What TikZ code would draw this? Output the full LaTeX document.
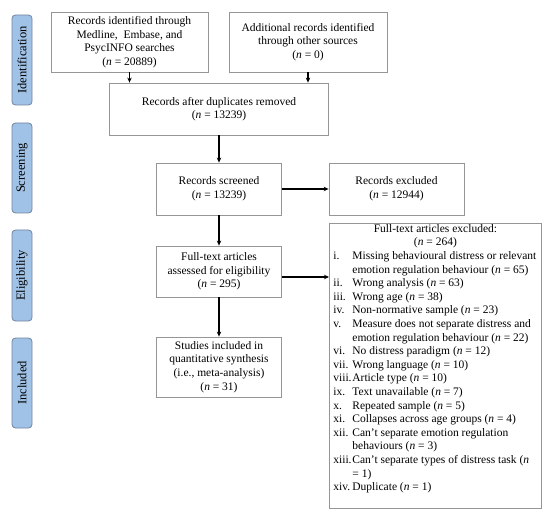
\documentclass[tikz,border=0pt]{standalone}
\usepackage{fontspec}
\setmainfont{Liberation Serif}
\usetikzlibrary{arrows.meta}
\definecolor{boxgray}{RGB}{150,150,150}
\definecolor{sidefill}{RGB}{160,194,230}
\definecolor{sidedraw}{RGB}{115,132,160}
\tikzset{
  box/.style={draw=boxgray, line width=0.8pt, align=center, inner sep=0pt,
    font=\fontsize{11.5}{13.6}\selectfont},
  side/.style={draw=sidedraw, fill=sidefill, line width=0.8pt, rounded corners=3.5pt,
    minimum height=20pt, inner sep=0pt, rotate=90, font=\fontsize{12.5}{14}\selectfont},
  arr/.style={line width=1.4pt, -{Stealth[length=5pt,width=4.5pt]}},
}
\begin{document}
\begin{tikzpicture}[x=1pt,y=-1pt]
\useasboundingbox (0,0) rectangle (550,519);
% side labels
\node[side, minimum width=90pt] (s1) at (22,60) {Identification};
\node[side, minimum width=90pt] (s2) at (22,168) {Screening};
\node[side, minimum width=91pt] (s3) at (22,275.5) {Eligibility};
\node[side, minimum width=90pt] (s4) at (22,383) {Included};
% boxes
\node[box, minimum width=157pt, minimum height=60pt] (b1) at (129.5,42)
  {Records identified through\\Medline,\ \ Embase, and\\PsycINFO searches\\(\textit{n} = 20889)};
\node[box, minimum width=158pt, minimum height=60pt] (b2) at (308,42)
  {Additional records identified\\through other sources\\(\textit{n} = 0)};
\node[box, minimum width=219pt, minimum height=52pt] (b3) at (219,109)
  {Records after duplicates removed\\(\textit{n} = 13239)};
\node[box, minimum width=125pt, minimum height=52pt] (b4) at (219,189)
  {Records screened\\(\textit{n} = 13239)};
\node[box, minimum width=135pt, minimum height=52pt] (ex) at (396.5,189)
  {Records excluded\\(\textit{n} = 12944)};
\node[box, minimum width=125pt, minimum height=51pt] (b5) at (219,271.5)
  {Full-text articles\\assessed for eligibility\\(\textit{n} = 295)};
\node[box, minimum width=125pt, minimum height=60pt] (b7) at (219,367)
  {Studies included in\\quantitative synthesis\\(i.e., meta-analysis)\\(\textit{n} = 31)};
\node[box, anchor=north west, inner xsep=4pt, inner ysep=0pt, align=left] (b6) at (329,223)
  {\parbox[t][285pt][t]{204pt}{\raggedright
   \vspace*{1pt}
   {\centering Full-text articles excluded:\\(\textit{n} = 264)\par}
   \mbox{\makebox[19pt][l]{i.}Missing behavioural distress or relevant}\\
   \mbox{\hspace*{19pt}emotion regulation behaviour (\textit{n} = 65)}\\
   \mbox{\makebox[19pt][l]{ii.}Wrong analysis (\textit{n} = 63)}\\
   \mbox{\makebox[19pt][l]{iii.}Wrong age (\textit{n} = 38)}\\
   \mbox{\makebox[19pt][l]{iv.}Non-normative sample (\textit{n} = 23)}\\
   \mbox{\makebox[19pt][l]{v.}Measure does not separate distress and}\\
   \mbox{\hspace*{19pt}emotion regulation behaviour (\textit{n} = 22)}\\
   \mbox{\makebox[19pt][l]{vi.}No distress paradigm (\textit{n} = 12)}\\
   \mbox{\makebox[19pt][l]{vii.}Wrong language (\textit{n} = 10)}\\
   \mbox{\makebox[19pt][l]{viii.}Article type (\textit{n} = 10)}\\
   \mbox{\makebox[19pt][l]{ix.}Text unavailable (\textit{n} = 7)}\\
   \mbox{\makebox[19pt][l]{x.}Repeated sample (\textit{n} = 5)}\\
   \mbox{\makebox[19pt][l]{xi.}Collapses across age groups (\textit{n} = 4)}\\
   \mbox{\makebox[19pt][l]{xii.}Can’t separate emotion regulation}\\
   \mbox{\hspace*{19pt}behaviours (\textit{n} = 3)}\\
   \mbox{\makebox[19pt][l]{xiii.}Can’t separate types of distress task (\textit{n}}\\
   \mbox{\hspace*{19pt}= 1)}\\
   \mbox{\makebox[19pt][l]{xiv.}Duplicate (\textit{n} = 1)}}};
% arrows
\draw[arr] (b1.south) -- (b1.south |- b3.north);
\draw[arr] (b2.south) -- (b2.south |- b3.north);
\draw[arr] (b3) -- (b4);
\draw[arr] (b4) -- (ex);
\draw[arr] (b4) -- (b5);
\draw[arr] ([yshift=-5.5pt]b5.east) -- ([yshift=-5.5pt]b5.east -| b6.west);
\draw[arr] (b5) -- (b7);
\end{tikzpicture}
\end{document}
